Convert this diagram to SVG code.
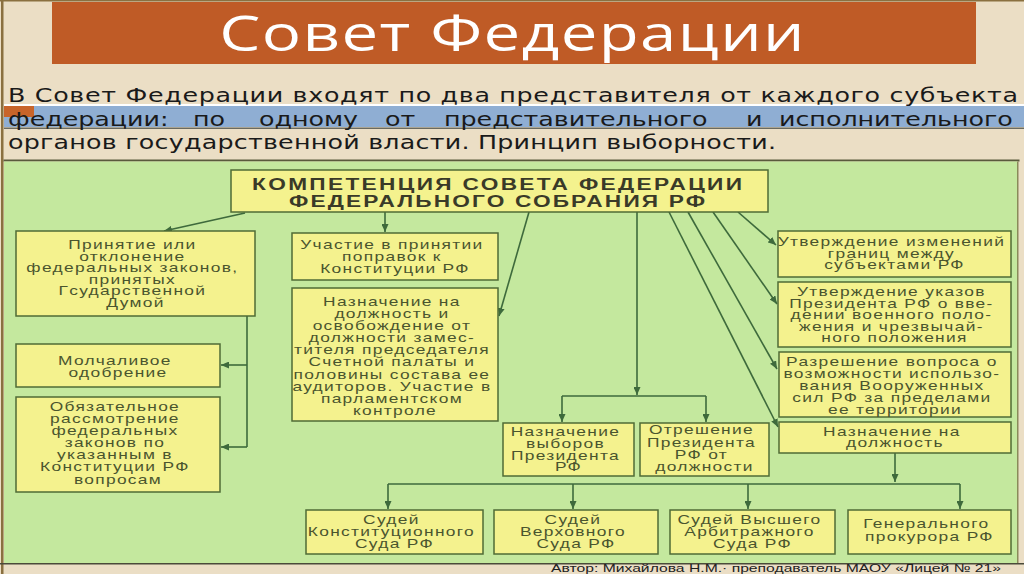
<svg xmlns="http://www.w3.org/2000/svg" width="1024" height="574" viewBox="0 0 1024 574">
<defs>
<style>
.box{fill:#F4F28E;stroke:#4F6B36;stroke-width:1.5}
.bt{font-family:"Liberation Sans",Arial,sans-serif;font-size:13px;fill:#4A552E;letter-spacing:1px;text-anchor:middle}
.ht{font-family:"Liberation Sans",Arial,sans-serif;font-size:17px;font-weight:bold;fill:#3A3A28;text-anchor:middle}
.pt{font-family:"DejaVu Sans",sans-serif;font-size:19px;fill:#1A1A1A}
.con{stroke:#3E6A3C;stroke-width:1.6;fill:none}
.arr{marker-end:url(#ah)}
</style>
<marker id="ah" markerUnits="userSpaceOnUse" markerWidth="9" markerHeight="7" refX="8" refY="3.5" orient="auto">
<path d="M0,0 L8,3.5 L0,7 z" fill="#3E6A3C"/>
</marker>
</defs>
<!-- background -->
<rect x="0" y="0" width="1024" height="574" fill="#EBDEC5"/>
<rect x="1" y="0" width="2.5" height="574" fill="#8A7040"/>
<rect x="0" y="0" width="1024" height="1.5" fill="#8A7040"/>
<!-- title bar -->
<rect x="52" y="2" width="924" height="62" fill="#BF5B26"/>
<text x="384" y="51" transform="scale(1.3333 1)" font-family="'Open Sans',sans-serif" font-size="49" fill="#FFFFFF" text-anchor="middle" textLength="439" lengthAdjust="spacing">Совет Федерации</text>
<!-- paragraph -->
<rect x="4" y="104" width="1020" height="2" fill="#FFFFFF"/>
<rect x="4" y="106" width="1020" height="21" fill="#8FAED3"/>
<rect x="4" y="106" width="30" height="11" fill="#C8642A"/>
<rect x="4" y="127.5" width="1020" height="1.5" fill="#6A6A60"/>
<text class="pt" x="6" y="102" transform="scale(1.3333 1)" textLength="757.5" lengthAdjust="spacing">В Совет Федерации входят по два представителя от каждого субъекта</text>
<text class="pt" y="126" transform="scale(1.3333 1)"><tspan x="6">федерации:</tspan><tspan x="144.75">по</tspan><tspan x="194.25">одному</tspan><tspan x="288.75">от</tspan><tspan x="333">представительного</tspan><tspan x="559.5">и</tspan><tspan x="584.25">исполнительного</tspan></text>
<text class="pt" x="6" y="149" transform="scale(1.3333 1)" textLength="576" lengthAdjust="spacing">органов государственной власти.  Принцип выборности.</text>
<!-- green panel -->
<rect x="3.5" y="159.5" width="1016" height="2" fill="#5A5A3C"/>
<rect x="4" y="161.5" width="1014" height="401.5" fill="#C4E89E"/>
<rect x="1017" y="161.5" width="1.5" height="401.5" fill="#8A8A5A"/>
<rect x="0" y="563" width="1024" height="1.5" fill="#4A4A3A"/>
<text x="551" y="572" font-family="'Liberation Sans',Arial,sans-serif" font-size="11.5" fill="#222222" textLength="450" lengthAdjust="spacingAndGlyphs">Автор: Михайлова Н.М.· преподаватель МАОУ «Лицей № 21»</text>

<!-- connectors -->
<g id="connectors">
<path class="con arr" d="M245,213 L164,231"/>
<path class="con arr" d="M385,212 L385,232"/>
<path class="con arr" d="M529,212 L499,316"/>
<path class="con arr" d="M637,212 L637,395"/>
<path class="con" d="M562,396 L706,396"/>
<path class="con arr" d="M562,396 L562,422"/>
<path class="con arr" d="M706,396 L706,422"/>
<path class="con arr" d="M738,212 L776,245"/>
<path class="con arr" d="M713,212 L777,304"/>
<path class="con arr" d="M688,212 L777,369"/>
<path class="con arr" d="M669,212 L778,427"/>
<path class="con" d="M247,316 L247,447"/>
<path class="con arr" d="M247,365 L221,365"/>
<path class="con arr" d="M247,447 L221,447"/>
<path class="con arr" d="M895,453 L895,482"/>
<path class="con" d="M388,484 L960,484"/>
<path class="con arr" d="M388,484 L388,509"/>
<path class="con arr" d="M573,484 L573,509"/>
<path class="con arr" d="M748,484 L748,509"/>
<path class="con arr" d="M960,484 L960,509"/>
</g>

<g id="header">
<rect class="box" x="231" y="170" width="537" height="42"/>
<text class="ht" transform="scale(1.3333 1)"><tspan x="372.75" y="190" textLength="367.5" lengthAdjust="spacing">КОМПЕТЕНЦИЯ СОВЕТА ФЕДЕРАЦИИ</tspan></text>
<text class="ht" transform="scale(1.3333 1)"><tspan x="372.75" y="207" textLength="312" lengthAdjust="spacing">ФЕДЕРАЛЬНОГО СОБРАНИЯ РФ</tspan></text>
</g>

<g id="node-laws">
<rect class="box" x="16" y="231" width="239" height="85"/>
<text class="bt" transform="scale(1.3333 1)">
<tspan x="101.6" y="249.5">Принятие или</tspan>
<tspan x="101.6" y="261">отклонение</tspan>
<tspan x="101.6" y="272.5">федеральных законов,</tspan>
<tspan x="101.6" y="284">принятых</tspan>
<tspan x="101.6" y="295.5">Гсударственной</tspan>
<tspan x="101.6" y="307">Думой</tspan>
</text>
</g>

<g id="node-silent">
<rect class="box" x="16" y="344" width="204" height="43"/>
<text class="bt" transform="scale(1.3333 1)">
<tspan x="88.5" y="365.5">Молчаливое</tspan>
<tspan x="88.5" y="377.5">одобрение</tspan>
</text>
</g>

<g id="node-mandatory">
<rect class="box" x="16" y="397" width="204" height="95"/>
<text class="bt" transform="scale(1.3333 1)">
<tspan x="88.5" y="411">Обязательное</tspan>
<tspan x="88.5" y="423.1">рассмотрение</tspan>
<tspan x="88.5" y="435.2">федеральных</tspan>
<tspan x="88.5" y="447.3">законов по</tspan>
<tspan x="88.5" y="459.4">указанным в</tspan>
<tspan x="88.5" y="471.5">Конституции РФ</tspan>
<tspan x="88.5" y="483.6">вопросам</tspan>
</text>
</g>

<g id="node-amend">
<rect class="box" x="292" y="233" width="206" height="47"/>
<text class="bt" transform="scale(1.3333 1)">
<tspan x="296.25" y="249">Участие в принятии</tspan>
<tspan x="296.25" y="261">поправок к</tspan>
<tspan x="296.25" y="273">Конституции РФ</tspan>
</text>
</g>

<g id="node-audit">
<rect class="box" x="292" y="288" width="206" height="133"/>
<text class="bt" transform="scale(1.3333 1)">
<tspan x="296.25" y="306">Назначение на</tspan>
<tspan x="296.25" y="318.1">должность и</tspan>
<tspan x="296.25" y="330.2">освобождение от</tspan>
<tspan x="296.25" y="342.3">должности замес-</tspan>
<tspan x="296.25" y="354.4">тителя председателя</tspan>
<tspan x="296.25" y="366.5">Счетной палаты и</tspan>
<tspan x="296.25" y="378.6">половины состава ее</tspan>
<tspan x="296.25" y="390.7">аудиторов. Участие в</tspan>
<tspan x="296.25" y="402.8">парламентском</tspan>
<tspan x="296.25" y="414.9">контроле</tspan>
</text>
</g>

<g id="node-elections">
<rect class="box" x="503" y="423" width="131" height="53"/>
<text class="bt" transform="scale(1.3333 1)">
<tspan x="426.4" y="436.5">Назначение</tspan>
<tspan x="426.4" y="448.5">выборов</tspan>
<tspan x="426.4" y="460.5">Президента</tspan>
<tspan x="426.4" y="471.5">РФ</tspan>
</text>
</g>

<g id="node-impeach">
<rect class="box" x="640" y="423" width="129" height="53"/>
<text class="bt" transform="scale(1.3333 1)">
<tspan x="528.4" y="434.5">Отрешение</tspan>
<tspan x="528.4" y="447">Президента</tspan>
<tspan x="528.4" y="459">РФ от</tspan>
<tspan x="528.4" y="471">должности</tspan>
</text>
</g>

<g id="node-borders">
<rect class="box" x="778" y="231" width="233" height="46"/>
<text class="bt" transform="scale(1.3333 1)">
<tspan x="670.9" y="246">Утверждение изменений</tspan>
<tspan x="670.9" y="257.8">границ между</tspan>
<tspan x="670.9" y="269.5">субъектами РФ</tspan>
</text>
</g>

<g id="node-decrees">
<rect class="box" x="778" y="282" width="233" height="65"/>
<text class="bt" transform="scale(1.3333 1)">
<tspan x="670.9" y="296.5">Утверждение указов</tspan>
<tspan x="670.9" y="308">Президента РФ о вве-</tspan>
<tspan x="670.9" y="319.5">дении военного поло-</tspan>
<tspan x="670.9" y="331">жения и чрезвычай-</tspan>
<tspan x="670.9" y="342.5">ного положения</tspan>
</text>
</g>

<g id="node-forces">
<rect class="box" x="779" y="352" width="232" height="65"/>
<text class="bt" transform="scale(1.3333 1)">
<tspan x="671.25" y="366">Разрешение вопроса о</tspan>
<tspan x="671.25" y="377.9">возможности использо-</tspan>
<tspan x="671.25" y="389.8">вания Вооруженных</tspan>
<tspan x="671.25" y="401.7">сил РФ за пределами</tspan>
<tspan x="671.25" y="413.6">ее территории</tspan>
</text>
</g>

<g id="node-appoint">
<rect class="box" x="779" y="422" width="232" height="31"/>
<text class="bt" transform="scale(1.3333 1)">
<tspan x="671.25" y="436">Назначение на</tspan>
<tspan x="671.25" y="447.5">должность</tspan>
</text>
</g>

<g id="node-const-court">
<rect class="box" x="306" y="510" width="177" height="44"/>
<text class="bt" transform="scale(1.3333 1)">
<tspan x="295.9" y="524.5">Судей</tspan>
<tspan x="295.9" y="536.5">Конституционного</tspan>
<tspan x="295.9" y="548.5">Суда РФ</tspan>
</text>
</g>

<g id="node-supreme-court">
<rect class="box" x="494" y="510" width="164" height="44"/>
<text class="bt" transform="scale(1.3333 1)">
<tspan x="432" y="524.5">Судей</tspan>
<tspan x="432" y="536.5">Верховного</tspan>
<tspan x="432" y="548.5">Суда РФ</tspan>
</text>
</g>

<g id="node-arbitration-court">
<rect class="box" x="670" y="510" width="165" height="44"/>
<text class="bt" transform="scale(1.3333 1)">
<tspan x="564.4" y="524.5">Судей Высшего</tspan>
<tspan x="564.4" y="536.5">Арбитражного</tspan>
<tspan x="564.4" y="548.5">Суда РФ</tspan>
</text>
</g>

<g id="node-prosecutor">
<rect class="box" x="848" y="510" width="163" height="44"/>
<text class="bt" transform="scale(1.3333 1)">
<tspan x="697.1" y="528.5">Генерального</tspan>
<tspan x="697.1" y="541.5">прокурора РФ</tspan>
</text>
</g>
</svg>
